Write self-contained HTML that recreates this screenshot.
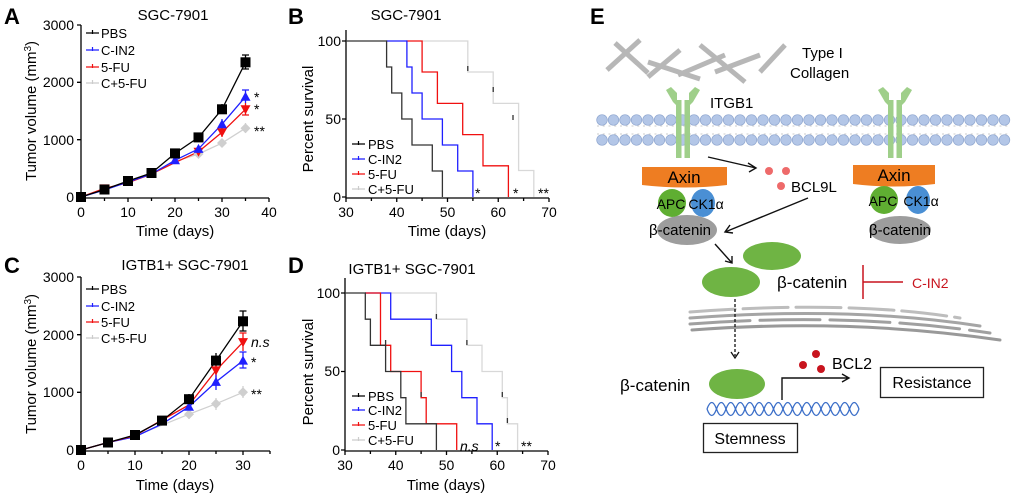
<!DOCTYPE html>
<html><head><meta charset="utf-8"><style>
html,body{margin:0;padding:0;background:#fff}
svg{display:block}
text{font-family:"Liberation Sans",sans-serif}
</style></head><body>
<svg width="1020" height="497" viewBox="0 0 1020 497" xmlns="http://www.w3.org/2000/svg">
<defs>
<symbol id="sq" viewBox="-5 -5 10 10" overflow="visible"><rect x="-5" y="-5" width="10" height="10" fill="#000"/></symbol>
<symbol id="tu" viewBox="-5 -5 10 10" overflow="visible"><path d="M0,-5 L5,4 L-5,4Z" fill="#1f1fff"/></symbol>
<symbol id="td" viewBox="-5 -5 10 10" overflow="visible"><path d="M0,5 L5,-4 L-5,-4Z" fill="#f01010"/></symbol>
<symbol id="dm" viewBox="-5 -5 10 10" overflow="visible"><path d="M0,-5 L5,0 L0,5 L-5,0Z" fill="#cfcfcf"/></symbol>
</defs>

<!-- ===== Panel A ===== -->
<text x="4" y="24" font-size="22" font-weight="bold">A</text>
<text x="173" y="20" font-size="15" text-anchor="middle">SGC-7901</text>
<g stroke="#000" stroke-width="1.3" fill="none">
<path d="M81,25 V198 H269"/>
<path d="M77,25 H81 M77,82.3 H81 M77,139.7 H81 M77,197 H81"/>
<path d="M81,198 v4 M104.5,198 v3 M128,198 v4 M151.5,198 v3 M175,198 v4 M198.5,198 v3 M222,198 v4 M245.5,198 v3 M269,198 v4"/>
</g>
<g font-size="14" text-anchor="end"><text x="74" y="30">3000</text><text x="74" y="87">2000</text><text x="74" y="145">1000</text><text x="74" y="202">0</text></g>
<g font-size="14" text-anchor="middle"><text x="81" y="217">0</text><text x="128" y="217">10</text><text x="175" y="217">20</text><text x="222" y="217">30</text><text x="269" y="217">40</text></g>
<text x="175" y="236" font-size="15" text-anchor="middle">Time (days)</text>
<text transform="translate(36,111) rotate(-90)" font-size="15" text-anchor="middle">Tumor volume (mm<tspan dy="-5" font-size="10">3</tspan><tspan dy="5">)</tspan></text>
<g fill="none" stroke-width="1.3">
<polyline stroke="#d0d0d0" points="81,197 104.5,189.5 128,182 151.5,174 175,161.5 198.5,154 222,143.1 245.5,128.2"/>
<polyline stroke="#f01010" points="81,197 104.5,188.4 128,182.7 151.5,174 175,162.6 198.5,151.7 222,132.3 245.5,109.3"/>
<polyline stroke="#1f1fff" points="81,197 104.5,190 128,182 151.5,174 175,160.3 198.5,148.9 222,124.2 245.5,96.7"/>
<polyline stroke="#000" points="81,197 104.5,189.5 128,181 151.5,173 175,153.4 198.5,137.4 222,109.3 245.5,62.3"/>
<path stroke="#000" d="M245.5,55 v14 M242,55 h7 M242,69 h7 M222,104 v10 M198.5,133 v8"/>
<path stroke="#1f1fff" d="M245.5,90 v13 M242,90 h7 M222,119 v10"/>
<path stroke="#f01010" d="M245.5,103 v12 M242,115 h7 M222,127 v10"/>
<path stroke="#d0d0d0" d="M245.5,123 v10 M222,139 v8"/>
</g>
<g>
<use href="#dm" x="217" y="138" width="10" height="10"/><use href="#dm" x="240.5" y="123.2" width="10" height="10"/><use href="#dm" x="193.5" y="149" width="10" height="10"/>
<use href="#td" x="217" y="127.3" width="10" height="10"/><use href="#td" x="240.5" y="104.3" width="10" height="10"/><use href="#td" x="193.5" y="146.7" width="10" height="10"/><use href="#td" x="99.5" y="183.4" width="10" height="10"/>
<use href="#tu" x="217" y="119.2" width="10" height="10"/><use href="#tu" x="240.5" y="91.7" width="10" height="10"/><use href="#tu" x="193.5" y="143.9" width="10" height="10"/><use href="#tu" x="170" y="155.3" width="10" height="10"/>
<use href="#sq" x="76" y="192" width="10" height="10"/><use href="#sq" x="99.5" y="184.5" width="10" height="10"/><use href="#sq" x="123" y="176" width="10" height="10"/><use href="#sq" x="146.5" y="168" width="10" height="10"/><use href="#sq" x="170" y="148.4" width="10" height="10"/><use href="#sq" x="193.5" y="132.4" width="10" height="10"/><use href="#sq" x="217" y="104.3" width="10" height="10"/><use href="#sq" x="240.5" y="57.3" width="10" height="10"/>
</g>
<g font-size="14"><text x="254" y="102">*</text><text x="254" y="114">*</text><text x="254" y="136">**</text></g>
<g font-size="13">
<path d="M86,33 h13 M92.5,30 v4" stroke="#000" stroke-width="1.2"/><text x="101" y="38">PBS</text>
<path d="M86,50 h13 M92.5,47 v4" stroke="#1f1fff" stroke-width="1.2"/><text x="101" y="55">C-IN2</text>
<path d="M86,67 h13 M92.5,64 v4" stroke="#f01010" stroke-width="1.2"/><text x="101" y="72">5-FU</text>
<path d="M86,83 h13 M92.5,80 v4" stroke="#ccc" stroke-width="1.2"/><text x="101" y="88">C+5-FU</text>
</g>

<!-- ===== Panel B ===== -->
<text x="288" y="24" font-size="22" font-weight="bold">B</text>
<text x="406" y="20" font-size="15" text-anchor="middle">SGC-7901</text>
<g stroke="#000" stroke-width="1.3" fill="none">
<path d="M346,30 V198 H549"/>
<path d="M342,41 H346 M342,119 H346 M342,197 H346"/>
<path d="M346,198 v4 M396.75,198 v4 M447.5,198 v4 M498.25,198 v4 M549,198 v4 M371.4,198 v3 M422.1,198 v3 M472.9,198 v3 M523.6,198 v3"/>
</g>
<g font-size="14" text-anchor="end"><text x="341" y="46">100</text><text x="341" y="124">50</text><text x="341" y="202">0</text></g>
<g font-size="14" text-anchor="middle"><text x="346" y="217">30</text><text x="396.75" y="217">40</text><text x="447.5" y="217">50</text><text x="498.25" y="217">60</text><text x="549" y="217">70</text></g>
<text x="447" y="236" font-size="15" text-anchor="middle">Time (days)</text>
<text transform="translate(313,119) rotate(-90)" font-size="15" text-anchor="middle">Percent survival</text>
<g fill="none" stroke-width="1.3">
<path stroke="#d8d8d8" d="M422,41 H467.8 V72 H493.2 V103.4 H518.6 V170.5 H533.8 V197"/>
<path stroke="#f01010" d="M406,41 H422.1 V72 H437.4 V103.4 H462.7 V134.6 H483 V165.8 H508.4 V197"/>
<path stroke="#1f1fff" d="M386,41 H406.9 V67 H412 V93 H422.1 V119 H442.4 V145 H457.7 V171 H472.9 V197"/>
<path stroke="#333" d="M346,41 H386.6 V67 H391.7 V93 H401.8 V119 H412 V145 H432.3 V171 H442.4 V197"/>
<path stroke="#333" d="M467.8,66 v5 M493.2,87 v5 M513,115 v5"/>
</g>
<g font-size="14"><text x="475" y="198">*</text><text x="513" y="198">*</text><text x="538" y="198">**</text></g>
<g font-size="13">
<path d="M352,144 h13 M358.5,141 v4" stroke="#000" stroke-width="1.2"/><text x="368" y="149">PBS</text>
<path d="M352,159 h13 M358.5,156 v4" stroke="#1f1fff" stroke-width="1.2"/><text x="368" y="164">C-IN2</text>
<path d="M352,174 h13 M358.5,171 v4" stroke="#f01010" stroke-width="1.2"/><text x="368" y="179">5-FU</text>
<path d="M352,189 h13 M358.5,186 v4" stroke="#ccc" stroke-width="1.2"/><text x="368" y="194">C+5-FU</text>
</g>

<!-- ===== Panel C ===== -->
<text x="4" y="273" font-size="22" font-weight="bold">C</text>
<text x="185" y="270" font-size="15" text-anchor="middle">IGTB1+ SGC-7901</text>
<g stroke="#000" stroke-width="1.3" fill="none">
<path d="M81,277 V451 H270"/>
<path d="M77,277 H81 M77,334.7 H81 M77,392.3 H81 M77,450 H81"/>
<path d="M81,451 v4 M108,451 v3 M135,451 v4 M162,451 v3 M189,451 v4 M216,451 v3 M243,451 v4 M270,451 v3"/>
</g>
<g font-size="14" text-anchor="end"><text x="74" y="282">3000</text><text x="74" y="340">2000</text><text x="74" y="397">1000</text><text x="74" y="455">0</text></g>
<g font-size="14" text-anchor="middle"><text x="81" y="470">0</text><text x="135" y="470">10</text><text x="189" y="470">20</text><text x="243" y="470">30</text></g>
<text x="175" y="490" font-size="15" text-anchor="middle">Time (days)</text>
<text transform="translate(36,364) rotate(-90)" font-size="15" text-anchor="middle">Tumor volume (mm<tspan dy="-5" font-size="10">3</tspan><tspan dy="5">)</tspan></text>
<g fill="none" stroke-width="1.3">
<polyline stroke="#d0d0d0" points="81,450 108,442.5 135,435.6 162,425.2 189,414.2 216,403.8 243,392.3"/>
<polyline stroke="#1f1fff" points="81,450 108,442.5 135,436.7 162,424 189,406.7 216,381.9 243,360.6"/>
<polyline stroke="#f01010" points="81,450 108,442.5 135,435.6 162,420 189,405 216,370.4 243,342.1"/>
<polyline stroke="#000" points="81,450 108,442.5 135,435 162,420.6 189,399.2 216,360.6 243,321.3"/>
<path stroke="#000" d="M243,311 v20 M239.5,311 h7 M239.5,331 h7 M216,353 v14 M189,394 v10"/>
<path stroke="#f01010" d="M243,333 v18 M239.5,333 h7 M216,362 v16"/>
<path stroke="#1f1fff" d="M243,352 v16 M239.5,352 h7 M239.5,368 h7 M216,374 v16"/>
<path stroke="#d0d0d0" d="M243,386 v12 M216,398 v12 M189,409 v10"/>
</g>
<g>
<use href="#dm" x="238" y="387.3" width="10" height="10"/><use href="#dm" x="211" y="398.8" width="10" height="10"/><use href="#dm" x="184" y="409.2" width="10" height="10"/>
<use href="#tu" x="238" y="355.6" width="10" height="10"/><use href="#tu" x="211" y="376.9" width="10" height="10"/><use href="#tu" x="184" y="401.7" width="10" height="10"/>
<use href="#td" x="238" y="337.1" width="10" height="10"/><use href="#td" x="211" y="365.4" width="10" height="10"/>
<use href="#sq" x="76" y="445" width="10" height="10"/><use href="#sq" x="103" y="437.5" width="10" height="10"/><use href="#sq" x="130" y="430" width="10" height="10"/><use href="#sq" x="157" y="415.6" width="10" height="10"/><use href="#sq" x="184" y="394.2" width="10" height="10"/><use href="#sq" x="211" y="355.6" width="10" height="10"/><use href="#sq" x="238" y="316.3" width="10" height="10"/>
</g>
<text x="251" y="347" font-size="14" font-style="italic">n.s</text>
<text x="251" y="367" font-size="14">*</text>
<text x="251" y="399" font-size="14">**</text>
<g font-size="13">
<path d="M86,289 h13 M92.5,286 v4" stroke="#000" stroke-width="1.2"/><text x="101" y="294">PBS</text>
<path d="M86,306 h13 M92.5,303 v4" stroke="#1f1fff" stroke-width="1.2"/><text x="101" y="311">C-IN2</text>
<path d="M86,322 h13 M92.5,319 v4" stroke="#f01010" stroke-width="1.2"/><text x="101" y="327">5-FU</text>
<path d="M86,338 h13 M92.5,335 v4" stroke="#ccc" stroke-width="1.2"/><text x="101" y="343">C+5-FU</text>
</g>

<!-- ===== Panel D ===== -->
<text x="288" y="273" font-size="22" font-weight="bold">D</text>
<text x="412" y="274" font-size="15" text-anchor="middle">IGTB1+ SGC-7901</text>
<g stroke="#000" stroke-width="1.3" fill="none">
<path d="M345,278 V451 H548"/>
<path d="M341,293 H345 M341,371.5 H345 M341,450 H345"/>
<path d="M345,451 v4 M395.75,451 v4 M446.5,451 v4 M497.25,451 v4 M548,451 v4 M370.4,451 v3 M421.1,451 v3 M471.9,451 v3 M522.6,451 v3"/>
</g>
<g font-size="14" text-anchor="end"><text x="340" y="298">100</text><text x="340" y="376">50</text><text x="340" y="455">0</text></g>
<g font-size="14" text-anchor="middle"><text x="345" y="470">30</text><text x="395.75" y="470">40</text><text x="446.5" y="470">50</text><text x="497.25" y="470">60</text><text x="548" y="470">70</text></g>
<text x="446" y="490" font-size="15" text-anchor="middle">Time (days)</text>
<text transform="translate(313,372) rotate(-90)" font-size="15" text-anchor="middle">Percent survival</text>
<g fill="none" stroke-width="1.3">
<path stroke="#d8d8d8" d="M390,293 H436.4 V319.2 H466.9 V345.3 H482 V371.5 H502.3 V397.7 H507.4 V423.8 H517.6 V450"/>
<path stroke="#1f1fff" d="M365,293 H390.7 V319.2 H431.3 V345.3 H451.6 V371.5 H461.8 V397.7 H477 V423.8 H492.2 V450"/>
<path stroke="#f01010" d="M365,293 H380.5 V345.3 H390.7 V371.5 H421.1 V397.7 H426.2 V423.8 H456.7 V450"/>
<path stroke="#333" d="M345,293 H365.3 V319.2 H370.4 V345.3 H385.6 V371.5 H400.8 V397.7 H405.9 V423.8 H436.4 V450"/>
<path stroke="#333" d="M436.4,314 v5 M466.9,340 v5 M502.3,392 v5 M507.4,418 v5 M385.6,340 v5 M421.1,392 v5"/>
</g>
<text x="460" y="451" font-size="14" font-style="italic">n.s</text>
<text x="495" y="451" font-size="14">*</text>
<text x="521" y="451" font-size="14">**</text>
<g font-size="13">
<path d="M352,396 h13 M358.5,393 v4" stroke="#000" stroke-width="1.2"/><text x="368" y="401">PBS</text>
<path d="M352,410 h13 M358.5,407 v4" stroke="#1f1fff" stroke-width="1.2"/><text x="368" y="415">C-IN2</text>
<path d="M352,425 h13 M358.5,422 v4" stroke="#f01010" stroke-width="1.2"/><text x="368" y="430">5-FU</text>
<path d="M352,440 h13 M358.5,437 v4" stroke="#ccc" stroke-width="1.2"/><text x="368" y="445">C+5-FU</text>
</g>

<!-- ===== Panel E ===== -->
<text x="590" y="24" font-size="22" font-weight="bold">E</text>
<g stroke="#b0b0b0" stroke-width="5" opacity="0.9">
<line x1="615" y1="43" x2="648" y2="73"/>
<line x1="640" y1="40" x2="607" y2="70"/>
<line x1="648" y1="62" x2="700" y2="79"/>
<line x1="680" y1="50" x2="648" y2="77"/>
<line x1="700" y1="45" x2="745" y2="82"/>
<line x1="678" y1="75" x2="725" y2="55"/>
<line x1="715" y1="72" x2="760" y2="55"/>
<line x1="760" y1="72" x2="785" y2="45"/>
</g>
<text x="802" y="58" font-size="15">Type I</text>
<text x="790" y="78" font-size="15">Collagen</text>
<text x="710" y="108" font-size="15">ITGB1</text>
<g stroke="#bbb" stroke-width="0.8">
<path d="M597,126 H1010 M597,134 H1010" stroke-dasharray="2 3.75"/>
</g>
<g fill="#b3c6e7" stroke="#8fa6cf" stroke-width="0.7">
<g id="row">
<circle cx="602" cy="120" r="5.3"/><circle cx="613.5" cy="120" r="5.3"/><circle cx="625" cy="120" r="5.3"/><circle cx="636.5" cy="120" r="5.3"/><circle cx="648" cy="120" r="5.3"/><circle cx="659.5" cy="120" r="5.3"/><circle cx="671" cy="120" r="5.3"/><circle cx="682.5" cy="120" r="5.3"/><circle cx="694" cy="120" r="5.3"/><circle cx="705.5" cy="120" r="5.3"/><circle cx="717" cy="120" r="5.3"/><circle cx="728.5" cy="120" r="5.3"/><circle cx="740" cy="120" r="5.3"/><circle cx="751.5" cy="120" r="5.3"/><circle cx="763" cy="120" r="5.3"/><circle cx="774.5" cy="120" r="5.3"/><circle cx="786" cy="120" r="5.3"/><circle cx="797.5" cy="120" r="5.3"/><circle cx="809" cy="120" r="5.3"/><circle cx="820.5" cy="120" r="5.3"/><circle cx="832" cy="120" r="5.3"/><circle cx="843.5" cy="120" r="5.3"/><circle cx="855" cy="120" r="5.3"/><circle cx="866.5" cy="120" r="5.3"/><circle cx="878" cy="120" r="5.3"/><circle cx="889.5" cy="120" r="5.3"/><circle cx="901" cy="120" r="5.3"/><circle cx="912.5" cy="120" r="5.3"/><circle cx="924" cy="120" r="5.3"/><circle cx="935.5" cy="120" r="5.3"/><circle cx="947" cy="120" r="5.3"/><circle cx="958.5" cy="120" r="5.3"/><circle cx="970" cy="120" r="5.3"/><circle cx="981.5" cy="120" r="5.3"/><circle cx="993" cy="120" r="5.3"/><circle cx="1004.5" cy="120" r="5.3"/>
</g>
<use href="#row" y="20"/>
</g>
<g fill="#9fcf8a">
<g id="rec">
<path d="M677,93 L671,87 L666,90 L673,102 L677,106 Z"/>
<rect x="676" y="100" width="5.5" height="58"/>
<path d="M689,93 L695,87 L700,90 L693,102 L689,106 Z"/>
<rect x="684.5" y="100" width="5.5" height="58"/>
</g>
<use href="#rec" x="212"/>
</g>
<path d="M642,167 H727 V185 Q685,190 642,185 Z" fill="#ee7d22"/>
<path d="M853,165 H935 V184 Q894,189 853,184 Z" fill="#ee7d22"/>
<text x="684" y="183" font-size="17" text-anchor="middle">Axin</text>
<text x="894" y="181" font-size="17" text-anchor="middle">Axin</text>
<ellipse cx="687" cy="230" rx="30" ry="15" fill="#9d9d9d"/>
<circle cx="672" cy="203" r="14" fill="#5fae32"/>
<ellipse cx="703" cy="203" rx="12" ry="14" fill="#4a8fd4"/>
<text x="671" y="209" font-size="14" text-anchor="middle">APC</text>
<text x="706" y="209" font-size="14" text-anchor="middle">CK1α</text>
<text x="680" y="235" font-size="15" text-anchor="middle">β-catenin</text>
<ellipse cx="900" cy="230" rx="31" ry="14" fill="#9d9d9d"/>
<circle cx="884" cy="200" r="14" fill="#5fae32"/>
<ellipse cx="918" cy="200" rx="12" ry="14" fill="#4a8fd4"/>
<text x="883" y="206" font-size="14" text-anchor="middle">APC</text>
<text x="921" y="206" font-size="14" text-anchor="middle">CK1α</text>
<text x="900" y="235" font-size="15" text-anchor="middle">β-catenin</text>
<g stroke="#111" stroke-width="1.4" fill="none">
<path d="M708,157 L756,168 M748,163 L756,168 L749,172"/>
<path d="M808,198 L725,232 M730,225 L725,232 L733,233"/>
<path d="M715,244 L732,263 M725,261 L732,263 L732,256"/>
</g>
<g fill="#ee6a6a"><circle cx="769" cy="171" r="4"/><circle cx="786" cy="171" r="4"/><circle cx="781" cy="186" r="4"/></g>
<text x="791" y="192" font-size="15">BCL9L</text>
<ellipse cx="772" cy="256" rx="29" ry="14" fill="#6fb444"/>
<ellipse cx="731" cy="282" rx="29" ry="15" fill="#6fb444"/>
<text x="777" y="288" font-size="17">β-catenin</text>
<g stroke="#c8141e" stroke-width="1.5"><path d="M863,265 V299 M863,282 H903"/></g>
<text x="912" y="288" font-size="14" fill="#c8141e">C-IN2</text>
<g fill="none" stroke-linecap="round">
<path d="M690,312 Q850,300 960,318" stroke="#bdbdbd" stroke-width="3" stroke-dasharray="45 8"/>
<path d="M690,318 Q850,306 980,326" stroke="#a5a5a5" stroke-width="3"/>
<path d="M690,324 Q850,312 990,333" stroke="#a0a0a0" stroke-width="3" stroke-dasharray="60 10"/>
<path d="M692,330 Q850,318 1000,340" stroke="#999" stroke-width="3"/>
</g>
<path d="M735,299 V356" stroke="#111" stroke-width="1.3" stroke-dasharray="3 2"/>
<path d="M731,352 L735,358 L739,352" stroke="#111" stroke-width="1.3" fill="none"/>
<ellipse cx="737" cy="384" rx="28" ry="15" fill="#6fb444"/>
<text x="620" y="391" font-size="17">β-catenin</text>
<g fill="none" stroke="#3c6fc8" stroke-width="1.3">
<path d="M707,409 q4.75,-13 9.5,0 q4.75,13 9.5,0 q4.75,-13 9.5,0 q4.75,13 9.5,0 q4.75,-13 9.5,0 q4.75,13 9.5,0 q4.75,-13 9.5,0 q4.75,13 9.5,0 q4.75,-13 9.5,0 q4.75,13 9.5,0 q4.75,-13 9.5,0 q4.75,13 9.5,0 q4.75,-13 9.5,0 q4.75,13 9.5,0 q4.75,-13 9.5,0 q4.75,13 9.5,0"/>
<path d="M707,409 q4.75,13 9.5,0 q4.75,-13 9.5,0 q4.75,13 9.5,0 q4.75,-13 9.5,0 q4.75,13 9.5,0 q4.75,-13 9.5,0 q4.75,13 9.5,0 q4.75,-13 9.5,0 q4.75,13 9.5,0 q4.75,-13 9.5,0 q4.75,13 9.5,0 q4.75,-13 9.5,0 q4.75,13 9.5,0 q4.75,-13 9.5,0 q4.75,13 9.5,0 q4.75,-13 9.5,0"/>
</g>
<path d="M782,400 V378 H848 M842,374 L849,378 L842,382" stroke="#111" stroke-width="1.4" fill="none"/>
<g fill="#c8141e"><circle cx="803" cy="365" r="4"/><circle cx="816" cy="354" r="4"/><circle cx="821" cy="369" r="4"/></g>
<text x="832" y="369" font-size="16">BCL2</text>
<rect x="880.5" y="367.5" width="103" height="30" fill="none" stroke="#222" stroke-width="1.3"/>
<text x="932" y="388" font-size="16" text-anchor="middle">Resistance</text>
<rect x="703.5" y="423.5" width="94" height="29" fill="#fff" stroke="#222" stroke-width="1.3"/>
<text x="750" y="444" font-size="16" text-anchor="middle">Stemness</text>
</svg>
</body></html>
